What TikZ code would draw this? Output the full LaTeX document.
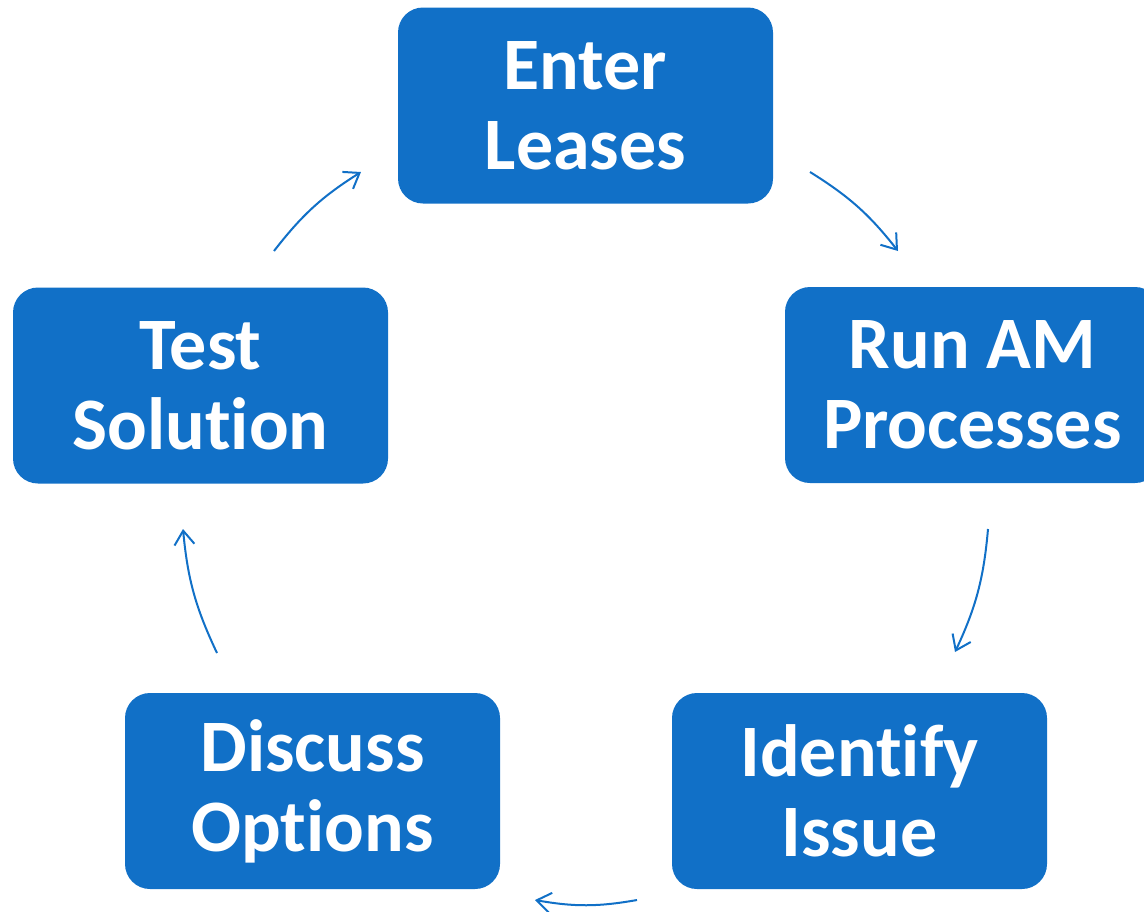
\documentclass[tikz,border=0pt]{standalone}
\usepackage{fontspec}
\setmainfont[RawFeature=-liga]{Carlito}
\usetikzlibrary{arrows.meta}

\definecolor{stepblue}{RGB}{17,112,199}

\begin{document}
\begin{tikzpicture}[
	x = 0.5pt, y = -0.5pt, % one unit per pixel of the reference
	> = {Straight Barb[length=7pt,width=10pt]}, % arrow head style
	thick, % line style
	B/.style={rectangle, rounded corners=12.5pt, fill=stepblue, text=white, minimum width=187.5pt, minimum height=98pt, align=center, font=\bfseries\fontsize{37}{40}\selectfont},
	C/.style={draw=stepblue, line width=1pt, ->, bend left=10},
	]
	\useasboundingbox (0,0) rectangle (1144,911);

	% Nodes and their positions
	\node[B] (E) at (585.5,105.5) {Enter\\Leases};
	\node[B] (R) at (972.5,385) {Run AM\\Processes};
	\node[B] (I) at (859.5,791) {Identify\\Issue};
	\node[B] (D) at (312.5,791) {Discuss\\Options};
	\node[B] (T) at (200.5,385.5) {Test\\Solution};

	% Free ends of the arrows
	\coordinate (e1) at (810,172);  \coordinate (r0) at (898,251);
	\coordinate (r1) at (988,529);  \coordinate (i0) at (955,652);
	\coordinate (i1) at (637,900);  \coordinate (d0) at (535,900);
	\coordinate (d1) at (217,653);  \coordinate (t0) at (183,529);
	\coordinate (t1) at (274,251);  \coordinate (e0) at (361,172);

	% Paths connecting nodes
	\draw[C] (e1) to (r0);
	\draw[C] (r1) to (i0);
	\draw[C] (i1) to (d0);
	\draw[C] (d1) to (t0);
	\draw[C] (t1) to (e0);

\end{tikzpicture}
\end{document}
